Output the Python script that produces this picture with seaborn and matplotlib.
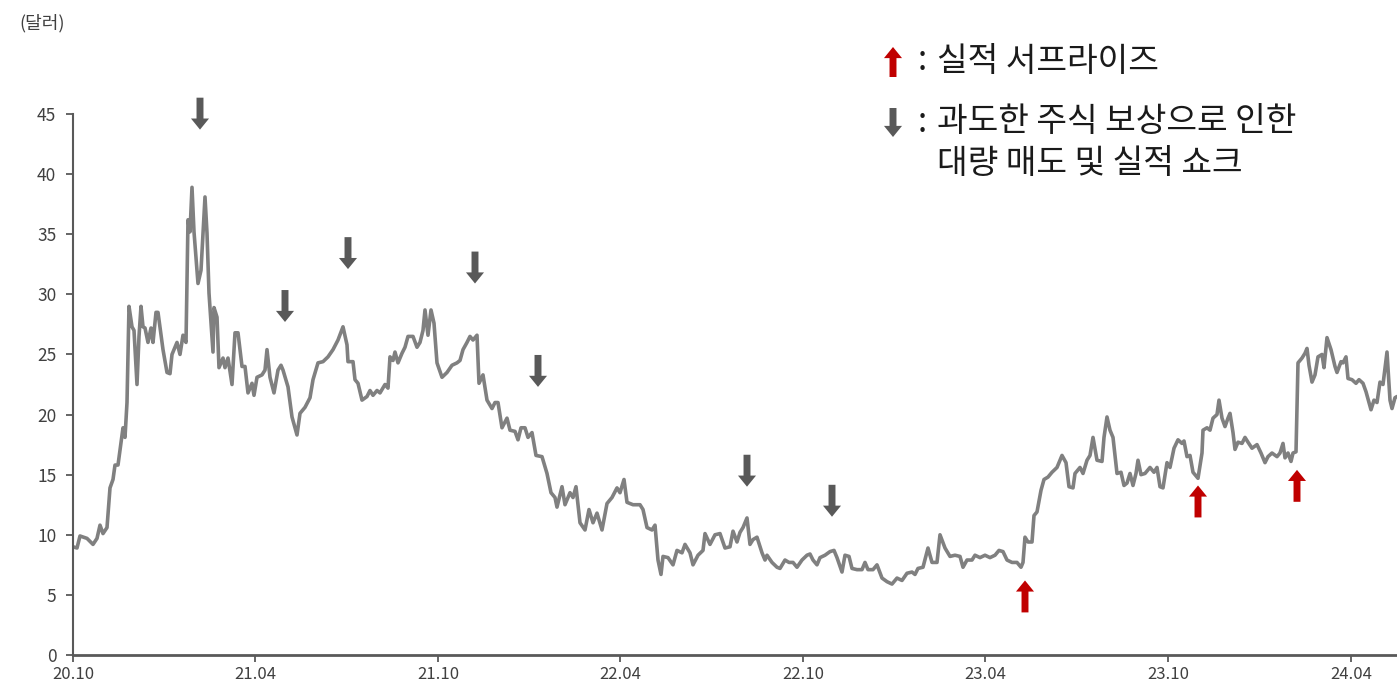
import matplotlib
matplotlib.use("Agg")
import matplotlib.pyplot as plt
import matplotlib.dates as mdates
import pandas as pd
import seaborn as sns

# Daily closing price (USD), sampled as calendar-day offsets from the start date
start_date = "2020-10-01"
day_offsets = [
    0, 4, 7, 14, 20, 24, 27, 30, 34, 37, 40, 42, 45, 48, 50, 52, 54, 56, 59, 61,
    64, 66, 68, 70, 72, 75, 78, 80, 83, 85, 90, 94, 97, 99, 104, 107, 110, 113, 115, 117,
    119, 121, 125, 128, 130, 132, 134, 136, 140, 141, 144, 146, 150, 152, 155, 159, 162, 165, 169, 172,
    175, 179, 181, 184, 189, 192, 194, 197, 201, 205, 208, 210, 215, 219, 224, 227, 232, 237, 240, 245,
    250, 255, 260, 265, 270, 274, 275, 280, 282, 285, 289, 294, 297, 300, 304, 307, 312, 315, 317, 320,
    322, 325, 329, 332, 335, 340, 344, 347, 350, 352, 355, 358, 361, 364, 369, 374, 379, 384, 387, 390,
    394, 397, 400, 404, 406, 410, 414, 419, 422, 425, 429, 434, 437, 442, 445, 448, 452, 455, 459, 463,
    469, 474, 478, 482, 484, 489, 492, 497, 500, 503, 507, 512, 516, 520, 524, 529, 534, 539, 544, 547,
    551, 554, 560, 567, 570, 574, 579, 582, 585, 588, 590, 595, 600, 604, 609, 612, 617, 620, 625, 630,
    632, 637, 642, 647, 652, 657, 660, 664, 667, 670, 674, 677, 680, 684, 689, 692, 694, 699, 704, 707,
    712, 716, 720, 724, 729, 734, 737, 740, 744, 747, 752, 757, 761, 764, 769, 772, 776, 779, 784, 789,
    792, 795, 800, 804, 809, 814, 819, 824, 829, 834, 839, 842, 845, 850, 855, 859, 864, 867, 872, 877,
    882, 887, 890, 894, 899, 902, 907, 912, 917, 922, 926, 930, 934, 939, 944, 948, 950, 952, 955, 959,
    961, 964, 968, 971, 975, 979, 984, 989, 993, 996, 1000, 1002, 1007, 1010, 1014, 1017, 1020, 1024, 1029, 1031,
    1034, 1037, 1040, 1044, 1048, 1051, 1054, 1057, 1060, 1063, 1065, 1068, 1072, 1077, 1081, 1084, 1087, 1090, 1094, 1097,
    1101, 1105, 1109, 1111, 1114, 1117, 1120, 1125, 1129, 1130, 1134, 1137, 1140, 1144, 1146, 1149, 1152, 1155, 1157, 1160,
    1162, 1165, 1169, 1172, 1175, 1179, 1184, 1188, 1192, 1195, 1199, 1204, 1207, 1210, 1212, 1215, 1218, 1220, 1223, 1225,
    1229, 1232, 1234, 1236, 1239, 1242, 1245, 1249, 1251, 1254, 1258, 1262, 1264, 1268, 1270, 1273, 1275, 1279, 1283, 1286,
    1290, 1293, 1298, 1301, 1304, 1307, 1310, 1314, 1317, 1319, 1322, 1324,
]
close_prices = [
    9.0, 8.9, 9.9, 9.7, 9.2, 9.7, 10.8, 10.1, 10.6, 13.9, 14.6, 15.8, 15.8, 17.7, 18.9, 18.1, 21.0, 29.0, 27.3, 27.0,
    22.5, 26.5, 29.0, 27.3, 27.2, 26.0, 27.2, 26.0, 28.5, 28.5, 25.4, 23.5, 23.4, 25.0, 26.0, 25.0, 26.6, 26.0, 36.2, 35.2,
    38.9, 35.2, 30.9, 32.0, 35.1, 38.1, 35.1, 30.1, 25.2, 28.9, 28.1, 23.9, 24.7, 23.9, 24.7, 22.5, 26.8, 26.8, 24.0, 24.0,
    21.8, 22.6, 21.6, 23.1, 23.3, 23.7, 25.4, 23.1, 21.8, 23.7, 24.1, 23.7, 22.3, 19.8, 18.3, 20.1, 20.6, 21.4, 22.9, 24.3,
    24.4, 24.8, 25.4, 26.2, 27.3, 25.8, 24.4, 24.4, 22.9, 22.6, 21.2, 21.5, 22.0, 21.6, 22.0, 21.8, 22.5, 22.2, 24.8, 24.5,
    25.2, 24.3, 25.1, 25.6, 26.5, 26.5, 25.6, 26.0, 27.0, 28.7, 26.6, 28.7, 27.6, 24.3, 23.1, 23.5, 24.1, 24.3, 24.5, 25.4,
    26.0, 26.5, 26.2, 26.6, 22.6, 23.3, 21.2, 20.5, 21.0, 21.0, 18.9, 19.7, 18.7, 18.6, 17.9, 18.9, 18.9, 18.1, 18.5, 16.6,
    16.5, 15.1, 13.5, 13.1, 12.3, 14.0, 12.5, 13.5, 13.1, 14.0, 11.0, 10.4, 12.1, 11.0, 11.8, 10.4, 12.6, 13.1, 13.9, 13.5,
    14.6, 12.7, 12.5, 12.5, 12.1, 10.6, 10.4, 10.8, 7.9, 6.7, 8.2, 8.1, 7.5, 8.7, 8.5, 9.2, 8.5, 7.5, 8.3, 8.7,
    10.1, 9.2, 10.0, 10.1, 8.9, 9.0, 10.3, 9.4, 10.2, 10.6, 11.4, 9.2, 9.6, 9.8, 8.5, 7.9, 8.3, 7.7, 7.3, 7.2,
    7.9, 7.7, 7.7, 7.3, 7.9, 8.3, 8.4, 7.9, 7.5, 8.1, 8.3, 8.6, 8.7, 8.1, 6.9, 8.3, 8.2, 7.2, 7.1, 7.1,
    7.7, 7.1, 7.1, 7.5, 6.4, 6.1, 5.9, 6.4, 6.2, 6.8, 6.9, 6.7, 7.2, 7.3, 8.9, 7.7, 7.7, 10.0, 8.9, 8.2,
    8.3, 8.2, 7.3, 7.9, 7.9, 8.3, 8.1, 8.3, 8.1, 8.3, 8.7, 8.6, 7.9, 7.7, 7.7, 7.3, 7.7, 9.8, 9.4, 9.4,
    11.6, 11.9, 13.7, 14.6, 14.8, 15.2, 15.6, 16.6, 16.0, 14.0, 13.9, 15.1, 15.6, 15.1, 16.2, 16.6, 18.1, 16.2, 16.1, 18.1,
    19.8, 18.7, 18.1, 15.1, 15.2, 14.1, 14.3, 15.1, 14.1, 15.1, 16.2, 15.0, 15.1, 15.6, 15.2, 15.6, 14.0, 13.9, 16.0, 15.6,
    17.2, 17.9, 17.6, 17.8, 16.5, 16.6, 15.2, 14.7, 16.8, 18.7, 18.9, 18.7, 19.7, 20.0, 21.2, 19.7, 19.0, 19.7, 20.1, 18.5,
    17.1, 17.7, 17.6, 18.1, 17.7, 17.2, 17.5, 16.8, 16.0, 16.5, 16.8, 16.5, 16.8, 17.6, 16.4, 16.8, 16.1, 16.8, 16.9, 24.3,
    24.7, 25.1, 25.5, 24.1, 22.7, 23.3, 24.8, 25.0, 23.9, 26.4, 25.4, 24.0, 23.5, 24.4, 24.3, 24.8, 23.0, 22.9, 22.6, 22.9,
    22.6, 21.9, 20.4, 21.2, 21.0, 22.7, 22.5, 25.2, 21.2, 20.5, 21.4, 21.5,
]

tick_dates = ["2020-10-01", "2021-04-01", "2021-10-01", "2022-04-01",
              "2022-10-01", "2023-04-01", "2023-10-01", "2024-04-01"]
tick_labels = ["20.10", "21.04", "21.10", "22.04", "22.10", "23.04", "23.10", "24.04"]
y_ticks = [0, 5, 10, 15, 20, 25, 30, 35, 40, 45]
x_end_offset = 1324

# Event markers: earnings surprises (up) and selling pressure / earnings shocks (down)
surprise_offsets = [952, 1125, 1224]
surprise_levels = [6.2, 14.1, 15.4]
shock_offsets = [127, 212, 275, 402, 465, 674, 759]
shock_levels = [43.7, 27.7, 32.1, 30.9, 22.3, 14.0, 11.5]

legend_up = "실적 서프라이즈"
legend_down_1 = "과도한 주식 보상으로 인한"
legend_down_2 = "대량 매도 및 실적 쇼크"
unit_label = "(달러)"

LINE_GRAY = "#808080"
AXIS_GRAY = "#595959"
TEXT_GRAY = "#404040"
UP_RED = "#C00000"
DOWN_GRAY = "#595959"
INK = "#1a1a1a"

sns.set_theme(style="ticks")
plt.rcParams["font.family"] = ["Noto Sans CJK KR", "DejaVu Sans"]

start = pd.Timestamp(start_date)
df = pd.DataFrame({
    "date": start + pd.to_timedelta(day_offsets, unit="D"),
    "price": close_prices,
})

W, H = 1397, 690
fig = plt.figure(figsize=(W / 100, H / 100), dpi=100)
ax = fig.add_axes([73 / W, 35 / H, 1 - 73 / W, (655 - 114) / H])

sns.lineplot(data=df, x="date", y="price", ax=ax, color=LINE_GRAY,
             linewidth=2.6, solid_joinstyle="round")

ax.set_xlim(start, start + pd.Timedelta(days=x_end_offset))
ax.set_ylim(0, 45)
ax.set_yticks(y_ticks)
ax.set_xticks(pd.to_datetime(tick_dates))
ax.set_xticklabels(tick_labels)
ax.set_xlabel("")
ax.set_ylabel("")

for side in ("top", "right"):
    ax.spines[side].set_visible(False)
ax.spines["left"].set_color(AXIS_GRAY)
ax.spines["left"].set_linewidth(1.5)
ax.spines["bottom"].set_color(AXIS_GRAY)
ax.spines["bottom"].set_linewidth(2.0)
ax.tick_params(axis="both", colors=AXIS_GRAY, labelcolor=TEXT_GRAY,
               labelsize=12, length=5, width=1.3, direction="out")
ax.tick_params(axis="y", pad=7, labelsize=12.5)
ax.tick_params(axis="x", pad=3)

arrow_style = "simple,head_length=0.8,head_width=1.3,tail_width=0.5"


def event_arrow(offset, level, length_pts, color):
    x = mdates.date2num(start + pd.Timedelta(days=offset))
    ax.annotate("", xy=(x, level), xytext=(0, length_pts), textcoords="offset points",
                annotation_clip=False,
                arrowprops=dict(arrowstyle=arrow_style, mutation_scale=10, color=color,
                                lw=0, shrinkA=0, shrinkB=0))


for off, lev in zip(shock_offsets, shock_levels):
    event_arrow(off, lev, 23, DOWN_GRAY)
for off, lev in zip(surprise_offsets, surprise_levels):
    event_arrow(off, lev, -23, UP_RED)


# Legend drawn in figure pixels
def legend_arrow(x, y_tip, y_tail, color):
    fig.add_artist(plt.Annotation(
        "", xy=(x, y_tip), xytext=(x, y_tail), xycoords="figure pixels",
        textcoords="figure pixels",
        arrowprops=dict(arrowstyle=arrow_style, mutation_scale=10, color=color,
                        lw=0, shrinkA=0, shrinkB=0)))


legend_arrow(893, H - 47, H - 77, UP_RED)
legend_arrow(893, H - 137, H - 108, DOWN_GRAY)

legend_fs = 24
fig.text(918 / W, (H - 61) / H, ":", fontsize=legend_fs, color=INK, va="center", ha="left")
fig.text(937 / W, (H - 61) / H, legend_up, fontsize=legend_fs, color=INK, va="center", ha="left")
fig.text(918 / W, (H - 122) / H, ":", fontsize=legend_fs, color=INK, va="center", ha="left")
fig.text(937 / W, (H - 122) / H, legend_down_1, fontsize=legend_fs, color=INK, va="center", ha="left")
fig.text(937 / W, (H - 163) / H, legend_down_2, fontsize=legend_fs, color=INK, va="center", ha="left")

fig.text(19 / W, (H - 23) / H, unit_label, fontsize=13, color=TEXT_GRAY, va="center", ha="left")

fig.savefig("out.png", dpi=100)
